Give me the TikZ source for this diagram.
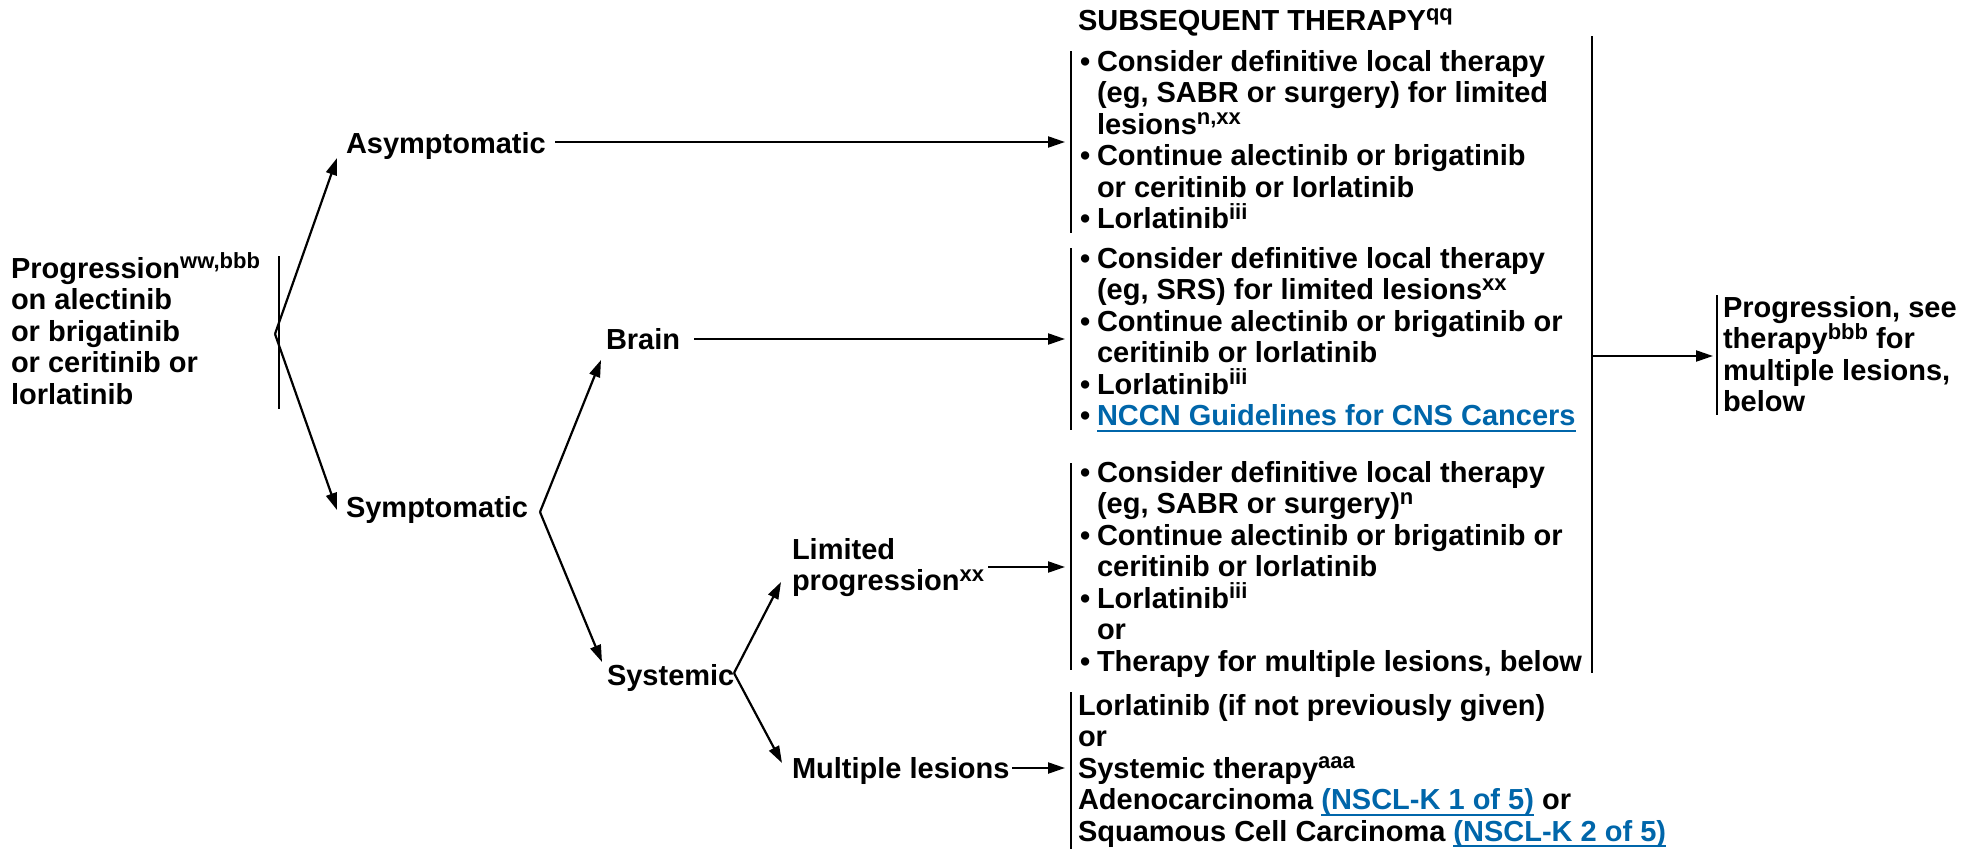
\documentclass[tikz,border=0pt]{standalone}
\usepackage{fontspec}
\setmainfont{Liberation Sans}
\usetikzlibrary{arrows.meta}
\definecolor{linkblue}{RGB}{0,102,170}

% raised footnote letters
\newcommand{\sups}[1]{\raisebox{9.5pt}{\fontsize{22}{22}\selectfont #1}}
% left-aligned block of lines, baseline on its first line
\newcommand{\stack}[1]{\vtop{\lineskiplimit=-1000pt\lineskip=0pt\baselineskip=31.5pt\halign{##\hfil\cr#1\crcr}}}
\newcommand{\bul}{\hbox to 17pt{\textbullet\hfil}}
\newcommand{\ind}{\hbox to 17pt{}}
% underlined cross-reference
\newcommand{\xref}[1]{\begingroup\color{linkblue}\setbox0\hbox{#1}\rlap{\rule[-6pt]{\wd0}{2pt}}\box0\endgroup}

\tikzset{
  txt/.style={anchor=base west, inner sep=0pt, outer sep=0pt,
    font=\bfseries\fontsize{29}{31.5}\selectfont},
  arr/.style={line width=2.2pt, -{Triangle[length=17pt,width=11pt]}},
  rule/.style={line width=2.2pt},
}

\begin{document}
\begin{tikzpicture}[x=1pt,y=-1pt]
\useasboundingbox (0,0) rectangle (1982,849);

% ---------- text ----------
\node[txt] (title) at (1078,30) {SUBSEQUENT THERAPY\sups{qq}};

\node[txt] (prog) at (11,278) {\stack{Progression\sups{ww,bbb}\cr on alectinib\cr or brigatinib\cr or ceritinib or\cr lorlatinib}};

\node[txt] (asym) at (346,153) {Asymptomatic};
\node[txt] (symp) at (346,517) {Symptomatic};
\node[txt] (brain) at (606,349) {Brain};
\node[txt] (sys) at (607,685) {Systemic};
\node[txt] (lim) at (792,559) {\stack{Limited\cr progression\sups{xx}}};
\node[txt] (mult) at (792,778) {Multiple lesions};

\node[txt] (box1) at (1080,71) {\stack{%
\bul Consider definitive local therapy\cr
\ind (eg, SABR or surgery) for limited\cr
\ind lesions\sups{n,xx}\cr
\bul Continue alectinib or brigatinib\cr
\ind or ceritinib or lorlatinib\cr
\bul Lorlatinib\sups{iii}}};

\node[txt] (box2) at (1080,268) {\stack{%
\bul Consider definitive local therapy\cr
\ind (eg, SRS) for limited lesions\sups{xx}\cr
\bul Continue alectinib or brigatinib or\cr
\ind ceritinib or lorlatinib\cr
\bul Lorlatinib\sups{iii}\cr
\bul \xref{NCCN Guidelines for CNS Cancers}}};

\node[txt] (box3) at (1080,482) {\stack{%
\bul Consider definitive local therapy\cr
\ind (eg, SABR or surgery)\sups{n}\cr
\bul Continue alectinib or brigatinib or\cr
\ind ceritinib or lorlatinib\cr
\bul Lorlatinib\sups{iii}\cr
\ind or\cr
\bul Therapy for multiple lesions, below}};

\node[txt] (box4) at (1078,715) {\stack{%
Lorlatinib (if not previously given)\cr
or\cr
Systemic therapy\sups{aaa}\cr
Adenocarcinoma \xref{(NSCL-K 1 of 5)} or\cr
Squamous Cell Carcinoma \xref{(NSCL-K 2 of 5)}}};

\node[txt] (next) at (1723,317) {\stack{Progression, see\cr therapy\sups{bbb} for\cr multiple lesions,\cr below}};

% ---------- brackets ----------
\coordinate (progT) at (279,256);  \coordinate (progB) at (279,409);
\coordinate (b1T) at (1071,51);    \coordinate (b1B) at (1071,233);
\coordinate (b2T) at (1071,248);   \coordinate (b2B) at (1071,430);
\coordinate (b3T) at (1071,463);   \coordinate (b3B) at (1071,670);
\coordinate (b4T) at (1071,692);   \coordinate (b4B) at (1071,849);
\coordinate (nxT) at (1717,295);   \coordinate (nxB) at (1717,415);
\coordinate (allT) at (1592,36);   \coordinate (allB) at (1592,673);
\draw[rule] (progT) -- (progB);
\draw[rule] (b1T) -- (b1B);
\draw[rule] (b2T) -- (b2B);
\draw[rule] (b3T) -- (b3B);
\draw[rule] (b4T) -- (b4B);
\draw[rule] (nxT) -- (nxB);
\draw[rule] (allT) -- (allB);

% ---------- branching ----------
\coordinate (f0) at (275,334);
\coordinate (asymIn) at (337,158);
\coordinate (sympIn) at (337,510);
\draw[arr] (f0) -- (asymIn);
\draw[arr] (f0) -- (sympIn);

\coordinate (f1) at (540,512);
\coordinate (brainIn) at (601,360);
\coordinate (sysIn) at (602,662);
\draw[arr] (f1) -- (brainIn);
\draw[arr] (f1) -- (sysIn);

\coordinate (f2) at (734,673);
\coordinate (limIn) at (781,582);
\coordinate (multIn) at (782,763);
\draw[arr] (f2) -- (limIn);
\draw[arr] (f2) -- (multIn);

% ---------- links to therapy blocks ----------
\coordinate (asymOut) at (555,142);
\coordinate (brainOut) at (694,339);
\coordinate (limOut) at (988,567);
\coordinate (multOut) at (1012,768);
\coordinate (b1In) at (1065,142);
\coordinate (b2In) at (1065,339);
\coordinate (b3In) at (1065,567);
\coordinate (b4In) at (1065,768);
\draw[arr] (asymOut) -- (b1In);
\draw[arr] (brainOut) -- (b2In);
\draw[arr] (limOut) -- (b3In);
\draw[arr] (multOut) -- (b4In);

\coordinate (allOut) at (1592,356);
\coordinate (nxIn) at (1713,356);
\draw[arr] (allOut) -- (nxIn);
\end{tikzpicture}
\end{document}
